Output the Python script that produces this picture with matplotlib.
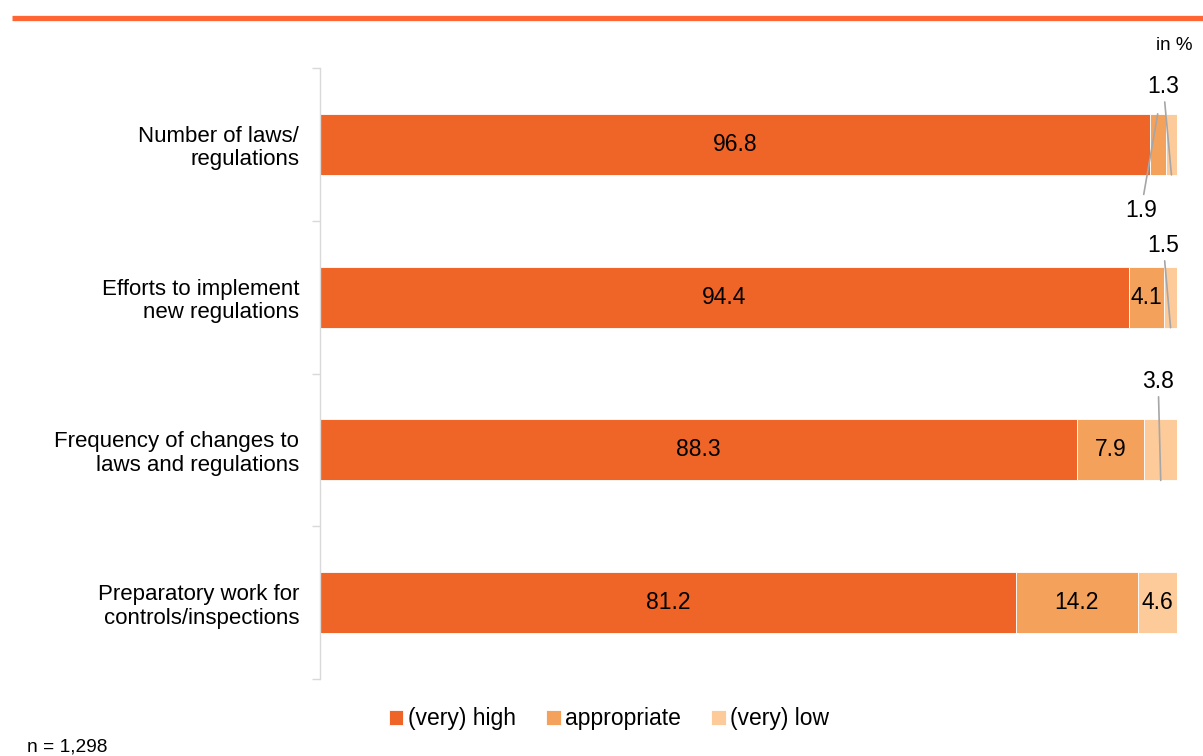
import matplotlib
matplotlib.use("Agg")
import matplotlib.pyplot as plt
from matplotlib.lines import Line2D

plt.rcParams['font.family'] = ['Liberation Sans', 'DejaVu Sans']

categories = [
    "Number of laws/\nregulations",
    "Efforts to implement\nnew regulations",
    "Frequency of changes to\nlaws and regulations",
    "Preparatory work for\ncontrols/inspections",
]
very_high = [96.8, 94.4, 88.3, 81.2]
appropriate = [1.9, 4.1, 7.9, 14.2]
very_low = [1.3, 1.5, 3.8, 4.6]
series_names = ["(very) high", "appropriate", "(very) low"]
colors = ["#EF6427", "#F4A15C", "#FDCB9A"]

fig = plt.figure(figsize=(12.03, 7.56), dpi=100)
ax = fig.add_axes([320 / 1203, 1 - 679 / 756, (1177 - 320) / 1203, (679 - 68) / 756])

# orange rule across the top
fig.add_artist(Line2D([12 / 1203, 1.0], [1 - 17.5 / 756] * 2, color="#FF6633",
                      linewidth=3.8, transform=fig.transFigure, solid_capstyle="butt"))

ys = list(range(len(categories)))
bar_h = 0.4
left = [0.0] * len(categories)
segments = []
for vals, col, name in zip([very_high, appropriate, very_low], colors, series_names):
    ax.barh(ys, vals, left=left, height=bar_h, color=col, edgecolor="white",
            linewidth=0.6, label=name)
    segments.append([(l, v) for l, v in zip(left, vals)])
    left = [l + v for l, v in zip(left, vals)]

label_fs = 16.5
# values printed inside their segments
inside = {(0, 0), (0, 1), (0, 2), (0, 3), (1, 1), (1, 2), (1, 3), (2, 3)}
for s, segs in enumerate(segments):
    for i, (l, v) in enumerate(segs):
        if (s, i) in inside:
            ax.text(l + v / 2, i, f"{v:.1f}", ha="center", va="center",
                    fontsize=label_fs, color="black")

# callouts for narrow segments: (series, category, text x, text y offset, attach to top?)
callouts = [
    (2, 0, 98.4, -0.38, False),
    (1, 0, 95.8, 0.43, True),
    (2, 1, 98.4, -0.34, False),
    (2, 2, 97.8, -0.45, False),
]
for s, i, tx, dy, top in callouts:
    l, v = segments[s][i]
    cx = l + v / 2
    yb = i - bar_h / 2 if top else i + bar_h / 2
    ax.annotate(f"{v:.1f}", xy=(cx, yb), xytext=(tx, i + dy),
                ha="center", va="center", fontsize=label_fs, color="black",
                arrowprops=dict(arrowstyle="-", color="#A6A6A6", lw=1.2,
                                shrinkA=1, shrinkB=0),
                annotation_clip=False)

ax.set_xlim(0, 100)
ax.set_ylim(len(categories) - 0.5, -0.5)
ax.set_yticks(ys)
ax.set_yticklabels(categories, fontsize=16, linespacing=1.15)
ax.set_yticks([i - 0.5 for i in range(len(categories) + 1)], minor=True)
ax.tick_params(axis="y", which="major", length=0, pad=15)
ax.tick_params(axis="y", which="minor", length=6, color="#D9D9D9", width=1)
ax.set_xticks([])
for sp in ["top", "right", "bottom"]:
    ax.spines[sp].set_visible(False)
ax.spines["left"].set_color("#D9D9D9")
ax.spines["left"].set_linewidth(1)

handles, labels = ax.get_legend_handles_labels()
fig.legend(handles, labels, loc="center", bbox_to_anchor=(609 / 1203, 1 - 719 / 756),
           ncol=3, frameon=False, fontsize=16.5, handlelength=0.65, handleheight=0.65,
           handletextpad=0.2, columnspacing=1.3)

fig.text(1193 / 1203, 1 - 46 / 756, "in %", ha="right", va="center", fontsize=13.5)
fig.text(27 / 1203, 1 - 747 / 756, "n = 1,298", ha="left", va="center", fontsize=13.8)

fig.savefig("out.png", dpi=100)
